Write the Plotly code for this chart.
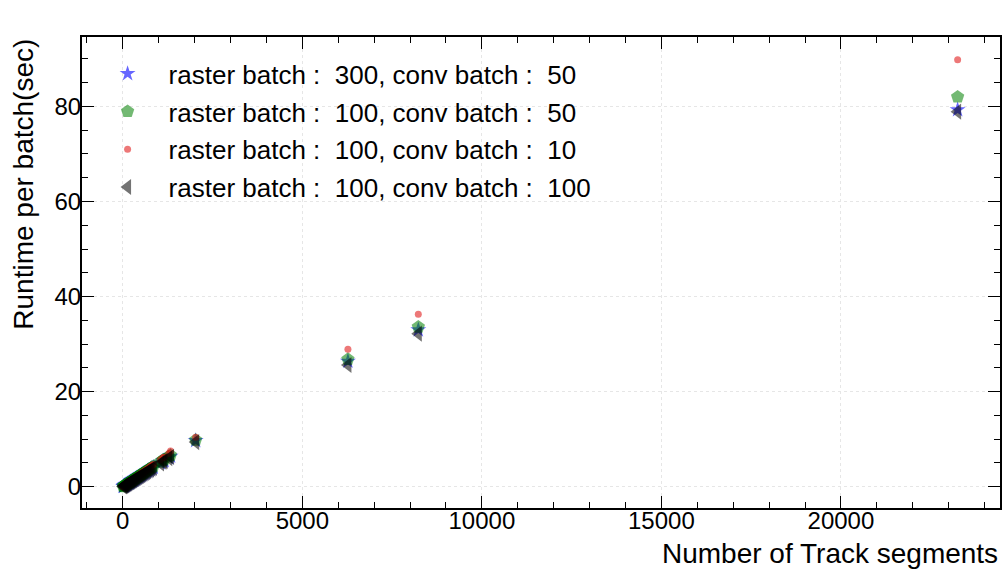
import plotly.graph_objects as go

# Data
segments = [10, 25, 40, 55, 70, 85, 100, 120, 140, 160, 180, 200, 220, 240, 260,
            280, 300, 325, 350, 375, 400, 430, 460, 490, 520, 550, 585, 620, 655,
            690, 730, 770, 810, 850, 1050, 1120, 1150, 1280, 1330,
            2030, 6270, 8230, 23250]
rt_300_50 = [0.05, 0.12, 0.2, 0.27, 0.34, 0.41, 0.48, 0.58, 0.67, 0.77, 0.86, 0.96, 1.05, 1.15, 1.25,
             1.34, 1.44, 1.56, 1.68, 1.8, 1.92, 2.06, 2.21, 2.35, 2.5, 2.64, 2.81, 2.98, 3.14,
             3.31, 3.5, 3.7, 3.89, 4.08, 5.0, 5.4, 5.5, 6.1, 6.4,
             9.7, 26.4, 33.0, 79.3]
rt_100_50 = [0.05, 0.13, 0.21, 0.28, 0.36, 0.43, 0.5, 0.6, 0.7, 0.8, 0.9, 1.0, 1.1, 1.2, 1.3,
             1.4, 1.5, 1.63, 1.75, 1.88, 2.0, 2.15, 2.3, 2.45, 2.6, 2.76, 2.94, 3.11, 3.28,
             3.46, 3.66, 3.86, 4.06, 4.26, 5.2, 5.6, 5.7, 6.3, 6.6,
             9.8, 26.8, 33.6, 82.0]
rt_100_10 = [0.06, 0.14, 0.23, 0.31, 0.39, 0.47, 0.55, 0.66, 0.77, 0.88, 0.99, 1.1, 1.21, 1.32, 1.43,
             1.54, 1.65, 1.79, 1.93, 2.06, 2.2, 2.37, 2.53, 2.7, 2.86, 3.03, 3.22, 3.41, 3.6,
             3.8, 4.02, 4.24, 4.46, 4.68, 5.7, 6.1, 6.2, 7.0, 7.5,
             10.4, 28.9, 36.3, 89.8]
rt_100_100 = [0.05, 0.12, 0.19, 0.26, 0.33, 0.4, 0.47, 0.56, 0.66, 0.75, 0.84, 0.94, 1.03, 1.12, 1.22,
              1.31, 1.4, 1.52, 1.64, 1.76, 1.87, 2.01, 2.15, 2.29, 2.43, 2.57, 2.74, 2.9, 3.06,
              3.23, 3.42, 3.6, 3.79, 3.98, 4.9, 5.3, 5.4, 6.0, 6.3,
              9.4, 25.6, 32.2, 78.9]

labels = ["raster batch :\u00a0 300, conv batch :\u00a0 50",
          "raster batch :\u00a0 100, conv batch :\u00a0 50",
          "raster batch :\u00a0 100, conv batch :\u00a0 10",
          "raster batch :\u00a0 100, conv batch :\u00a0 100"]

series = [rt_300_50, rt_100_50, rt_100_10, rt_100_100]
symbols = ["star", "pentagon", "circle", "triangle-left"]
sizes = [12, 14, 7, 14]
colors = ["rgba(0,0,255,0.6)", "rgba(0,128,0,0.55)", "rgba(225,30,30,0.6)", "rgba(0,0,0,0.55)"]

FONT = "Liberation Sans, Arial, sans-serif"

fig = go.Figure()
for i, (ys, lab) in enumerate(zip(series, labels)):
    fig.add_trace(go.Scatter(
        x=segments, y=ys, mode="markers", name=lab, legendgroup=f"g{i}",
        marker=dict(symbol=symbols[i], size=sizes[i], color=colors[i], line=dict(width=0)),
    ))

axis_common = dict(
    showline=True, linecolor="black", linewidth=2, mirror="ticks",
    ticks="inside", ticklen=12, tickwidth=1.2, tickcolor="black",
    showgrid=True, gridcolor="#e6e6e6", griddash="dot", gridwidth=1,
    zeroline=False, tickfont=dict(family=FONT, size=24, color="black"),
)

fig.update_xaxes(range=[-1136, 24430], dtick=5000, tick0=0, tickformat="d",
                 ticklabelstandoff=-10,
                 minor=dict(dtick=1000, ticks="inside", ticklen=6, tickcolor="black", showgrid=False),
                 **axis_common)
fig.update_yaxes(range=[-4.47, 94.6], dtick=20, tick0=0, tickformat="d",
                 ticklabelstandoff=-6,
                 minor=dict(dtick=5, ticks="inside", ticklen=6, tickcolor="black", showgrid=False),
                 **axis_common)

fig.add_annotation(text="Number of Track segments", xref="paper", yref="paper",
                   x=1.0, y=-0.096, xanchor="right", yanchor="middle", showarrow=False,
                   font=dict(family=FONT, size=28, color="black"))
fig.add_annotation(text="Runtime per batch(sec)", xref="paper", yref="paper",
                   x=-0.045, y=1.0, xanchor="right", yanchor="top", textangle=-90, showarrow=False,
                   font=dict(family=FONT, size=28, color="black"))

fig.update_layout(
    width=1007, height=569,
    margin=dict(l=82, r=5, t=37, b=61),
    plot_bgcolor="white", paper_bgcolor="white",
    showlegend=True,
    legend=dict(x=0.005, y=0.972, xanchor="left", yanchor="top",
                bgcolor="rgba(0,0,0,0)", font=dict(family=FONT, size=26, color="black"),
                tracegroupgap=1, itemsizing="trace", itemwidth=72),
)

fig.write_html("out.html")
